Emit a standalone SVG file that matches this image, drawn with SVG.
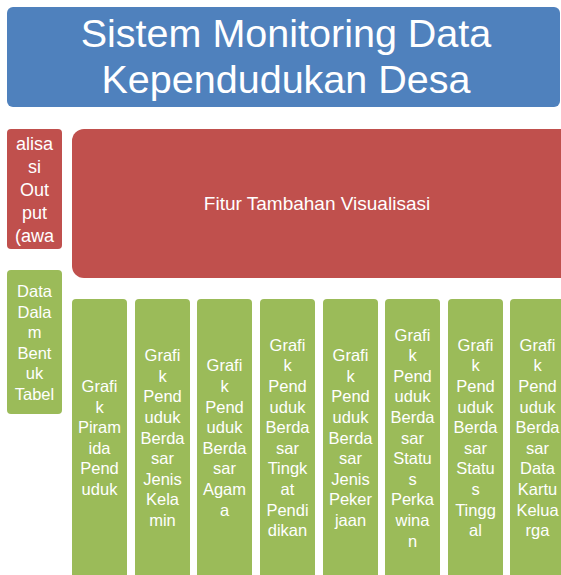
<svg xmlns="http://www.w3.org/2000/svg" width="561" height="575" viewBox="0 0 561 575">
<style>
text{font-family:"Liberation Sans",Arial,sans-serif;fill:#fff;text-anchor:middle}
.blue{fill:#4F81BD}
.red{fill:#C0504D}
.green{fill:#9BBB59}
.t{font-size:39.5px}
.m{font-size:18px}
.f{font-size:19px}
.s{font-size:16.5px}
</style>
<rect width="561" height="575" fill="#fff"/>
<g id="title">
<rect class="blue" x="7" y="7" width="553" height="100" rx="6"/>
<text class="t" x="286" y="47">Sistem Monitoring Data</text>
<text class="t" x="286" y="93">Kependudukan Desa</text>
</g>
<g id="analisa">
<rect class="red" x="7" y="129" width="55" height="120" rx="4"/>
<text class="m" x="34.5" y="149.5"><tspan x="34.5">alisa</tspan><tspan x="34.5" dy="23">si</tspan><tspan x="34.5" dy="23">Out</tspan><tspan x="34.5" dy="23">put</tspan><tspan x="34.5" dy="23">(awa</tspan></text>
</g>
<g id="fitur">
<rect class="red" x="72" y="129" width="510" height="149" rx="12"/>
<text class="f" x="317" y="210">Fitur Tambahan Visualisasi</text>
</g>
<g id="tabel">
<rect class="green" x="7" y="270" width="55" height="144" rx="4"/>
<text class="s" x="34.5" y="297"><tspan x="34.5">Data</tspan><tspan x="34.5" dy="20.5">Dala</tspan><tspan x="34.5" dy="20.5">m</tspan><tspan x="34.5" dy="20.5">Bent</tspan><tspan x="34.5" dy="20.5">uk</tspan><tspan x="34.5" dy="20.5">Tabel</tspan></text>
</g>
<g id="c1">
<rect class="green" x="72" y="299" width="55" height="290" rx="4"/>
<text class="s" y="392"><tspan x="99.5">Grafi</tspan><tspan x="99.5" dy="20.6">k</tspan><tspan x="99.5" dy="20.6">Piram</tspan><tspan x="99.5" dy="20.6">ida</tspan><tspan x="99.5" dy="20.6">Pend</tspan><tspan x="99.5" dy="20.6">uduk</tspan></text>
</g>
<g id="c2">
<rect class="green" x="135" y="299" width="55" height="290" rx="4"/>
<text class="s" y="361.1"><tspan x="162.5">Grafi</tspan><tspan x="162.5" dy="20.6">k</tspan><tspan x="162.5" dy="20.6">Pend</tspan><tspan x="162.5" dy="20.6">uduk</tspan><tspan x="162.5" dy="20.6">Berda</tspan><tspan x="162.5" dy="20.6">sar</tspan><tspan x="162.5" dy="20.6">Jenis</tspan><tspan x="162.5" dy="20.6">Kela</tspan><tspan x="162.5" dy="20.6">min</tspan></text>
</g>
<g id="c3">
<rect class="green" x="197" y="299" width="55" height="290" rx="4"/>
<text class="s" y="371.4"><tspan x="224.5">Grafi</tspan><tspan x="224.5" dy="20.6">k</tspan><tspan x="224.5" dy="20.6">Pend</tspan><tspan x="224.5" dy="20.6">uduk</tspan><tspan x="224.5" dy="20.6">Berda</tspan><tspan x="224.5" dy="20.6">sar</tspan><tspan x="224.5" dy="20.6">Agam</tspan><tspan x="224.5" dy="20.6">a</tspan></text>
</g>
<g id="c4">
<rect class="green" x="260" y="299" width="55" height="290" rx="4"/>
<text class="s" y="350.8"><tspan x="287.5">Grafi</tspan><tspan x="287.5" dy="20.6">k</tspan><tspan x="287.5" dy="20.6">Pend</tspan><tspan x="287.5" dy="20.6">uduk</tspan><tspan x="287.5" dy="20.6">Berda</tspan><tspan x="287.5" dy="20.6">sar</tspan><tspan x="287.5" dy="20.6">Tingk</tspan><tspan x="287.5" dy="20.6">at</tspan><tspan x="287.5" dy="20.6">Pendi</tspan><tspan x="287.5" dy="20.6">dikan</tspan></text>
</g>
<g id="c5">
<rect class="green" x="323" y="299" width="55" height="290" rx="4"/>
<text class="s" y="361.1"><tspan x="350.5">Grafi</tspan><tspan x="350.5" dy="20.6">k</tspan><tspan x="350.5" dy="20.6">Pend</tspan><tspan x="350.5" dy="20.6">uduk</tspan><tspan x="350.5" dy="20.6">Berda</tspan><tspan x="350.5" dy="20.6">sar</tspan><tspan x="350.5" dy="20.6">Jenis</tspan><tspan x="350.5" dy="20.6">Peker</tspan><tspan x="350.5" dy="20.6">jaan</tspan></text>
</g>
<g id="c6">
<rect class="green" x="385" y="299" width="55" height="290" rx="4"/>
<text class="s" y="340.5"><tspan x="412.5">Grafi</tspan><tspan x="412.5" dy="20.6">k</tspan><tspan x="412.5" dy="20.6">Pend</tspan><tspan x="412.5" dy="20.6">uduk</tspan><tspan x="412.5" dy="20.6">Berda</tspan><tspan x="412.5" dy="20.6">sar</tspan><tspan x="412.5" dy="20.6">Statu</tspan><tspan x="412.5" dy="20.6">s</tspan><tspan x="412.5" dy="20.6">Perka</tspan><tspan x="412.5" dy="20.6">wina</tspan><tspan x="412.5" dy="20.6">n</tspan></text>
</g>
<g id="c7">
<rect class="green" x="448" y="299" width="55" height="290" rx="4"/>
<text class="s" y="350.8"><tspan x="475.5">Grafi</tspan><tspan x="475.5" dy="20.6">k</tspan><tspan x="475.5" dy="20.6">Pend</tspan><tspan x="475.5" dy="20.6">uduk</tspan><tspan x="475.5" dy="20.6">Berda</tspan><tspan x="475.5" dy="20.6">sar</tspan><tspan x="475.5" dy="20.6">Statu</tspan><tspan x="475.5" dy="20.6">s</tspan><tspan x="475.5" dy="20.6">Tingg</tspan><tspan x="475.5" dy="20.6">al</tspan></text>
</g>
<g id="c8">
<rect class="green" x="510" y="299" width="55" height="290" rx="4"/>
<text class="s" y="350.8"><tspan x="537.5">Grafi</tspan><tspan x="537.5" dy="20.6">k</tspan><tspan x="537.5" dy="20.6">Pend</tspan><tspan x="537.5" dy="20.6">uduk</tspan><tspan x="537.5" dy="20.6">Berda</tspan><tspan x="537.5" dy="20.6">sar</tspan><tspan x="537.5" dy="20.6">Data</tspan><tspan x="537.5" dy="20.6">Kartu</tspan><tspan x="537.5" dy="20.6">Kelua</tspan><tspan x="537.5" dy="20.6">rga</tspan></text>
</g>
<g id="connectors"/>
</svg>
